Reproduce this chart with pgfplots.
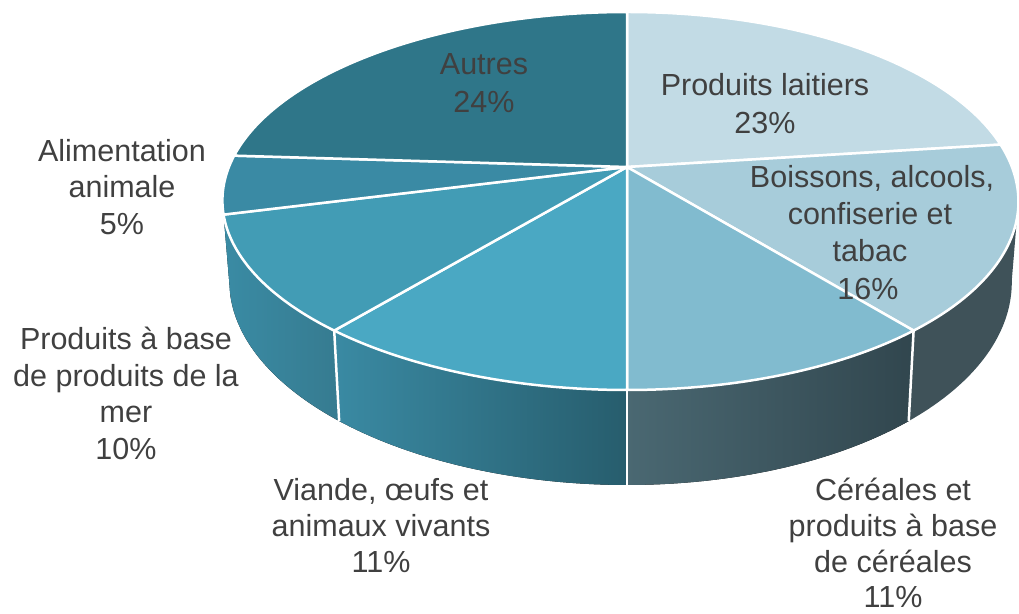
\documentclass[border=0pt]{standalone}
\usepackage{pgfplots}
\pgfplotsset{compat=1.18}
\usepgfplotslibrary{fillbetween}
\usepackage{fontspec}
\setmainfont{Liberation Sans}
% data (percent)
\def\vLait{23}\def\vBois{16}\def\vCere{11}\def\vVian{11}\def\vMer{10}\def\vAlim{5}\def\vAutr{24}
\pgfmathsetmacro\aA{3.6*\vLait}
\pgfmathsetmacro\aB{3.6*(\vLait+\vBois)}
\pgfmathsetmacro\aC{3.6*(\vLait+\vBois+\vCere)}
\pgfmathsetmacro\aD{3.6*(\vLait+\vBois+\vCere+\vVian)}
\pgfmathsetmacro\aE{3.6*(\vLait+\vBois+\vCere+\vVian+\vMer)}
\pgfmathsetmacro\aF{3.6*(\vLait+\vBois+\vCere+\vVian+\vMer+\vAlim)}
\pgfmathsetmacro\aG{3.6*(\vLait+\vBois+\vCere+\vVian+\vMer+\vAlim+\vAutr)}
% perspective projection of the pie rim
\def\PX#1{(627+(2176.5-36.5*sin(#1))*sin(#1)/(5.559+cos(#1)))}
\def\PY#1{(446+1016.7*cos(#1)/(5.559+cos(#1)))}
\def\BX#1{(627+0.983*(2176.5-36.5*sin(#1))*sin(#1)/(5.559+cos(#1)))}
\def\BY#1{(446+(1016.7*cos(#1)-433)/(5.559+cos(#1)))}
\definecolor{cLait}{HTML}{C2DBE5}
\definecolor{cBois}{HTML}{A7CCDA}
\definecolor{cCere}{HTML}{81BBCF}
\definecolor{cVian}{HTML}{4AA8C3}
\definecolor{cMer}{HTML}{429CB5}
\definecolor{cAlim}{HTML}{3A8AA4}
\definecolor{cAutr}{HTML}{2F7689}
\definecolor{sBois}{HTML}{3F5259}
\definecolor{sCereL}{HTML}{4A6872}
\definecolor{sCereR}{HTML}{31464E}
\definecolor{sVianL}{HTML}{3A8AA3}
\definecolor{sVianR}{HTML}{275D6D}
\definecolor{sMerL}{HTML}{3A8BA4}
\definecolor{sMerR}{HTML}{367B90}
\definecolor{sAlim}{HTML}{3A88A0}
\definecolor{txt}{HTML}{404040}
\newcommand{\lab}{\fontsize{30.5}{36}\selectfont\color{txt}}
\begin{document}
\begin{tikzpicture}
\begin{axis}[x=1pt,y=1pt,xmin=0,xmax=1019,ymin=0,ymax=613,hide axis,clip=false,
  samples=60]
% ---- sides ----
\addplot[draw=none,name path=T1,domain=100:\aB] ({\PX{x}},{\PY{x}});
\addplot[draw=none,name path=B1,domain=100:\aB] ({\BX{x}},{\BY{x}});
\addplot[fill=sBois,draw=none] fill between[of=T1 and B1];
\addplot[draw=none,name path=T2,domain=\aB:\aC] ({\PX{x}},{\PY{x}});
\addplot[draw=none,name path=B2,domain=\aB:\aC] ({\BX{x}},{\BY{x}});
\addplot[left color=sCereL,right color=sCereR,draw=none] fill between[of=T2 and B2];
\addplot[draw=none,name path=T3,domain=\aC:\aD] ({\PX{x}},{\PY{x}});
\addplot[draw=none,name path=B3,domain=\aC:\aD] ({\BX{x}},{\BY{x}});
\addplot[left color=sVianL,right color=sVianR,draw=none] fill between[of=T3 and B3];
\addplot[draw=none,name path=T4,domain=\aD:\aE] ({\PX{x}},{\PY{x}});
\addplot[draw=none,name path=B4,domain=\aD:\aE] ({\BX{x}},{\BY{x}});
\addplot[left color=sMerL,right color=sMerR,draw=none] fill between[of=T4 and B4];
\addplot[draw=none,name path=T5,domain=\aE:260] ({\PX{x}},{\PY{x}});
\addplot[draw=none,name path=B5,domain=\aE:260] ({\BX{x}},{\BY{x}});
\addplot[fill=sAlim,draw=none] fill between[of=T5 and B5];
% side separators
\addplot[white,line width=2.5pt,domain=0:1,samples=2]
  ({627+(1-0.017*x)*(2176.5-36.5*sin(\aB))*sin(\aB)/(5.559+cos(\aB))},{446+(1016.7*cos(\aB)-433*x)/(5.559+cos(\aB))});
\addplot[white,line width=2.5pt,domain=0:1,samples=2]
  ({627+(1-0.017*x)*(2176.5-36.5*sin(\aC))*sin(\aC)/(5.559+cos(\aC))},{446+(1016.7*cos(\aC)-433*x)/(5.559+cos(\aC))});
\addplot[white,line width=2.5pt,domain=0:1,samples=2]
  ({627+(1-0.017*x)*(2176.5-36.5*sin(\aD))*sin(\aD)/(5.559+cos(\aD))},{446+(1016.7*cos(\aD)-433*x)/(5.559+cos(\aD))});
% ---- top faces ----
\addplot[fill=cLait,draw=white,line width=2.5pt,line join=round,domain=0:\aA] ({\PX{x}},{\PY{x}}) -- (627,446) -- cycle;
\addplot[fill=cBois,draw=white,line width=2.5pt,line join=round,domain=\aA:\aB] ({\PX{x}},{\PY{x}}) -- (627,446) -- cycle;
\addplot[fill=cCere,draw=white,line width=2.5pt,line join=round,domain=\aB:\aC] ({\PX{x}},{\PY{x}}) -- (627,446) -- cycle;
\addplot[fill=cVian,draw=white,line width=2.5pt,line join=round,domain=\aC:\aD] ({\PX{x}},{\PY{x}}) -- (627,446) -- cycle;
\addplot[fill=cMer,draw=white,line width=2.5pt,line join=round,domain=\aD:\aE] ({\PX{x}},{\PY{x}}) -- (627,446) -- cycle;
\addplot[fill=cAlim,draw=white,line width=2.5pt,line join=round,domain=\aE:\aF] ({\PX{x}},{\PY{x}}) -- (627,446) -- cycle;
\addplot[fill=cAutr,draw=white,line width=2.5pt,line join=round,domain=\aF:\aG] ({\PX{x}},{\PY{x}}) -- (627,446) -- cycle;
% ---- labels ----
\node[anchor=base,font=\lab] at (484,538) {Autres};
\node[anchor=base,font=\lab] at (484,500) {24\%};
\node[anchor=base,font=\lab] at (765,517) {Produits laitiers};
\node[anchor=base,font=\lab] at (765,479) {23\%};
\node[anchor=base,font=\lab] at (872,425) {Boissons, alcools,};
\node[anchor=base,font=\lab] at (870,388) {confiserie et};
\node[anchor=base,font=\lab] at (870,351) {tabac};
\node[anchor=base,font=\lab] at (868,313) {16\%};
\node[anchor=base,font=\lab] at (893,113) {Céréales et};
\node[anchor=base,font=\lab] at (893,77) {produits à base};
\node[anchor=base,font=\lab] at (893,41) {de céréales};
\node[anchor=base,font=\lab] at (893,6) {11\%};
\node[anchor=base,font=\lab] at (381,113) {Viande, œufs et};
\node[anchor=base,font=\lab] at (381,77) {animaux vivants};
\node[anchor=base,font=\lab] at (381,41) {11\%};
\node[anchor=base,font=\lab] at (126,263) {Produits à base};
\node[anchor=base,font=\lab] at (126,226) {de produits de la};
\node[anchor=base,font=\lab] at (126,190) {mer};
\node[anchor=base,font=\lab] at (126,153) {10\%};
\node[anchor=base,font=\lab] at (122,451) {Alimentation};
\node[anchor=base,font=\lab] at (122,415) {animale};
\node[anchor=base,font=\lab] at (122,378) {5\%};
\end{axis}
\pgfresetboundingbox
\path (0,0) rectangle (1019pt,613pt);
\end{tikzpicture}
\end{document}
